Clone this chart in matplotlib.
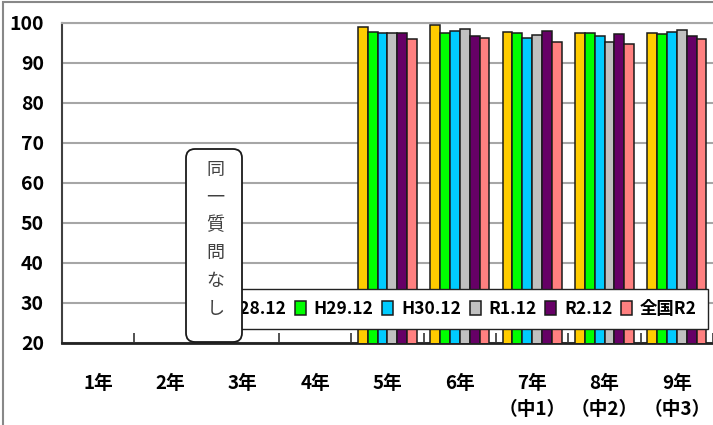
import numpy as np
import matplotlib.pyplot as plt
from matplotlib.patches import FancyBboxPatch, Rectangle

plt.rcParams['font.family'] = ['Noto Sans CJK JP', 'DejaVu Sans']

grades = ['1年', '2年', '3年', '4年', '5年', '6年', '7年\n（中1）', '8年\n（中2）', '9年\n（中3）']
series = ['H28.12', 'H29.12', 'H30.12', 'R1.12', 'R2.12', '全国R2']
colors = ['#FFCC00', '#00FF00', '#00CCFF', '#C0C0C0', '#660066', '#FF8080']

# grades 1-4 were not asked the same question
h28 = [np.nan, np.nan, np.nan, np.nan, 98.9, 99.4, 97.8, 97.4, 97.4]
h29 = [np.nan, np.nan, np.nan, np.nan, 97.8, 97.4, 97.4, 97.4, 97.2]
h30 = [np.nan, np.nan, np.nan, np.nan, 97.4, 97.9, 96.3, 96.8, 97.8]
r1 = [np.nan, np.nan, np.nan, np.nan, 97.4, 98.6, 97.1, 95.2, 98.2]
r2 = [np.nan, np.nan, np.nan, np.nan, 97.4, 96.8, 97.9, 97.2, 96.7]
zenkoku_r2 = [np.nan, np.nan, np.nan, np.nan, 95.9, 96.3, 95.2, 94.8, 95.9]
values = [h28, h29, h30, r1, r2, zenkoku_r2]

note = '同一質問なし'

fig = plt.figure(figsize=(7.13, 4.25), dpi=100)
ax = fig.add_axes([62 / 713, 1 - 343 / 425, 651 / 713, 320 / 425])

x = np.arange(len(grades))
w = 0.136
for i, (name, vals, c) in enumerate(zip(series, values, colors)):
    ax.bar(x + (i - 2.5) * w, vals, w, color=c, edgecolor='#1a1a1a',
           linewidth=1.1, label=name, zorder=3)

ax.set_xlim(-0.5, len(grades) - 0.5)
ax.set_ylim(20, 100)
ax.set_yticks(range(20, 101, 10))
ax.yaxis.grid(True, color='#a6a6a6', linewidth=1.5, zorder=0)
ax.tick_params(axis='y', length=0, pad=13, labelsize=14)
for lbl in ax.get_yticklabels():
    lbl.set_fontweight('bold')

ax.set_xticks(x)
ax.set_xticklabels(grades, fontsize=13.5, fontweight='bold', linespacing=1.5)
ax.tick_params(axis='x', length=0, pad=22)
ax.set_xticks(np.arange(len(grades) + 1) - 0.5, minor=True)
ax.tick_params(axis='x', which='minor', direction='in', length=7, width=1.2, color='#333333')

ax.spines['top'].set_color('#a6a6a6')
ax.spines['top'].set_linewidth(1.5)
ax.spines['right'].set_visible(False)
ax.spines['left'].set_color('#404040')
ax.spines['left'].set_linewidth(1.5)
ax.spines['bottom'].set_color('#222222')
ax.spines['bottom'].set_linewidth(2)

leg = ax.legend(ncol=6, loc='center right', bbox_to_anchor=(708 / 713, 1 - 309 / 425),
                bbox_transform=fig.transFigure, fancybox=False, framealpha=1,
                edgecolor='#222222', prop={'weight': 'bold', 'size': 12.5},
                handlelength=0.63, handleheight=0.85, handletextpad=0.45,
                columnspacing=0.5, borderpad=0.65, borderaxespad=0)
leg.get_frame().set_linewidth(1.0)
leg.set_zorder(5)

# rounded note box over the empty grades
box = FancyBboxPatch((1.86, 0.83), 0.56, 1.93, boxstyle='round,pad=0,rounding_size=0.09',
                     transform=fig.dpi_scale_trans, facecolor='white',
                     edgecolor='#1a1a1a', linewidth=1.3, zorder=10)
fig.patches.append(box)
for i, ch in enumerate(note):
    fig.text(2.155, 4.25 - (1.70 + i * 0.278), ch, transform=fig.dpi_scale_trans,
             ha='center', va='center', fontsize=13, color='#404040', zorder=11)

# outer chart border
fig.patches.append(Rectangle((0.03, -1), 10, 5.23, transform=fig.dpi_scale_trans,
                             fill=False, edgecolor='#888888', linewidth=1.5, zorder=1))

fig.savefig('out.png', dpi=100)
